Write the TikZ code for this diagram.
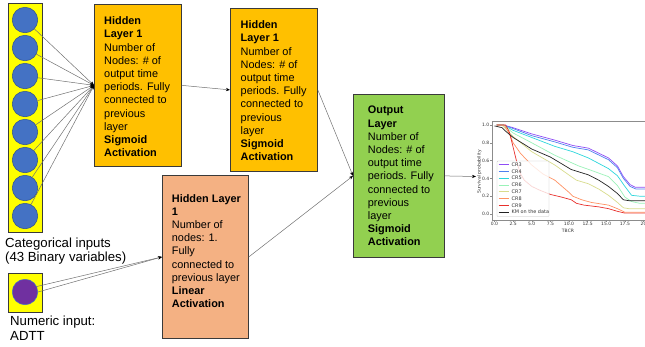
\documentclass[tikz,border=0pt]{standalone}
\usepackage{fontspec}
\setmainfont{Liberation Sans}
\newfontfamily\plotfont{DejaVu Sans}
\usetikzlibrary{arrows.meta}
\definecolor{cyel}{HTML}{FFFF00}
\definecolor{cblue}{HTML}{4472C4}
\definecolor{cblueline}{HTML}{2F528F}
\definecolor{cpurple}{HTML}{7030A0}
\definecolor{corange}{HTML}{FFC000}
\definecolor{csalmon}{HTML}{F4B183}
\definecolor{cgreen}{HTML}{92D050}
\definecolor{boxline}{HTML}{3A3A3A}
\definecolor{edgec}{HTML}{707070}
\definecolor{pcr3}{HTML}{8F4DF5}
\definecolor{pcr4}{HTML}{4F7FEF}
\definecolor{pcr5}{HTML}{2CD6DC}
\definecolor{pcr6}{HTML}{9AF2B8}
\definecolor{pcr7}{HTML}{D8DC8C}
\definecolor{pcr8}{HTML}{FF9264}
\definecolor{pcr9}{HTML}{E8302C}
\definecolor{pkm}{HTML}{222222}
\begin{document}
\begin{tikzpicture}[x=1pt,y=-1pt,
  layerbox/.style={draw=boxline, line width=0.8pt, anchor=north west, inner sep=0pt},
  inbox/.style={draw=boxline, line width=0.8pt, fill=cyel, anchor=north west, inner sep=0pt},
  bcirc/.style={circle, fill=cblue, draw=cblueline, line width=0.5pt, minimum size=25.5pt, inner sep=0pt},
  pcirc/.style={circle, fill=cpurple, draw=cblue, line width=0.5pt, minimum size=25.5pt, inner sep=0pt},
  boxtext/.style={anchor=north west, inner sep=0pt, align=left, font=\fontsize{10.9}{13.2}\selectfont},
  intext/.style={anchor=north west, inner sep=0pt, align=left, font=\fontsize{13.2}{14.6}\selectfont},
  conn/.style={draw=edgec, line width=0.5pt, -{Stealth[length=4pt,width=3.2pt,black]}},
  ticklab/.style={inner sep=0pt, font=\plotfont\fontsize{4.5}{5}\selectfont, text=black!80},
  leglab/.style={inner sep=0pt, font=\plotfont\fontsize{4.9}{5.5}\selectfont, text=black!80},
  curve/.style={line width=0.7pt, line join=round}
]
\useasboundingbox (0,0) rectangle (645,346);

% inputs
\node[inbox, minimum width=34pt, minimum height=228.4pt] (col) at (8,3.3) {};
\foreach \i in {1,...,8}{
  \node[bcirc] (c\i) at (25,{20+28*(\i-1)}) {};
}
\node[inbox, minimum width=34pt, minimum height=38.4pt] (numbox) at (8,273.3) {};
\node[pcirc] (pc) at (25,292) {};
\node[intext] (cattext) at (5,237.5) {Categorical inputs\\(43 Binary variables)};
\node[intext] (numtext) at (10,316) {Numeric input:\\ADTT};

% layer boxes
\node[layerbox, fill=corange, minimum width=87pt, minimum height=162.5pt] (h1) at (94,3.7) {};
\node[layerbox, fill=corange, minimum width=87pt, minimum height=163pt] (h2) at (230,8) {};
\node[layerbox, fill=csalmon, minimum width=86pt, minimum height=163pt] (h3) at (162,175) {};
\node[layerbox, fill=cgreen, minimum width=91pt, minimum height=163pt] (out) at (353,94) {};

\node[boxtext] (t1) at (104,16.5) {\textbf{Hidden}\\\textbf{Layer 1}\\Number of\\Nodes: \# of\\output time\\periods. Fully\\connected to\\previous\\layer\\\textbf{Sigmoid}\\\textbf{Activation}};
\node[boxtext] (t2) at (240.5,20.5) {\textbf{Hidden}\\\textbf{Layer 1}\\Number of\\Nodes: \# of\\output time\\periods. Fully\\connected to\\previous\\layer\\\textbf{Sigmoid}\\\textbf{Activation}};
\node[boxtext] (t3) at (171.7,194) {\textbf{Hidden Layer}\\\textbf{1}\\Number of\\nodes: 1.\\Fully\\connected to\\previous layer\\\textbf{Linear}\\\textbf{Activation}};
\node[boxtext] (t4) at (367.7,106) {\textbf{Output}\\\textbf{Layer}\\Number of\\Nodes: \# of\\output time\\periods. Fully\\connected to\\previous\\layer\\\textbf{Sigmoid}\\\textbf{Activation}};

% connectors
\foreach \i in {1,...,8}{
  \draw[conn] (c\i) -- (h1.west);
}
\draw[conn] (h1.east) -- (h2.west);
\draw[conn] (h2.east) -- (out.west);
\draw[conn] (h3.east) -- (out.west);
\draw[conn] (pc.east) -- (h3.west);
\draw[conn] (pc.25) -- (h3.west);
\coordinate (plotin) at (476,176.5);
\draw[conn] (out.east) -- (plotin);

% plot
\begin{scope}[shift={(494.5pt,-214pt)}, x=7.45pt, y=89pt]
  \draw[curve, pcr3] (0.3,1)--(1.2,1)--(2.5,0.97)--(5,0.9)--(8.1,0.83)--(10.5,0.77)--(12.6,0.74)--(15.3,0.63)--(16.5,0.54)--(17.3,0.42)--(18.2,0.33)--(18.9,0.3)--(21,0.3);
  \draw[curve, pcr4] (0.3,1)--(1.2,1)--(2.5,0.96)--(5,0.88)--(8.1,0.81)--(10.5,0.75)--(12.6,0.72)--(15.3,0.61)--(16.5,0.52)--(17.3,0.4)--(18.2,0.31)--(19,0.28)--(21,0.28);
  \draw[curve, pcr5] (0.3,1)--(1.2,1)--(2.5,0.94)--(5,0.86)--(8.1,0.76)--(10.5,0.7)--(12.6,0.63)--(15.3,0.51)--(16.5,0.43)--(17.5,0.31)--(18.4,0.21)--(19.5,0.2)--(21,0.2);
  \draw[curve, pcr6] (0.3,1)--(1.2,1)--(2.5,0.91)--(5,0.8)--(8.1,0.66)--(11.3,0.54)--(13,0.49)--(15.3,0.42)--(16.5,0.32)--(17.5,0.19)--(18.4,0.14)--(19.5,0.12)--(21,0.12);
  \draw[curve, pcr7] (0.3,1)--(1,1)--(2.5,0.87)--(5,0.7)--(8.1,0.55)--(10.3,0.42)--(11,0.38)--(12.6,0.34)--(14,0.28)--(15.3,0.21)--(16.5,0.13)--(17.3,0.07)--(18,0.06)--(21,0.06);
  \draw[curve, pcr8] (0.3,1)--(1.3,1)--(2,0.9)--(2.5,0.8)--(3.5,0.68)--(5,0.55)--(6.5,0.45)--(8.1,0.38)--(9.9,0.25)--(10.5,0.2)--(11.7,0.16)--(13,0.13)--(15.3,0.1)--(16.5,0.06)--(17.5,0.02)--(21,0.02);
  \draw[curve, pcr9] (0.3,1)--(1.5,1)--(2,0.92)--(2.5,0.75)--(3,0.58)--(3.5,0.45)--(4,0.38)--(5,0.31)--(6,0.27)--(7.5,0.22)--(9,0.19)--(10.3,0.16)--(11,0.12)--(12,0.1)--(14,0.08)--(15.3,0.06)--(16.5,0.03)--(17.5,0.01)--(21,0.01);
  \draw[curve, pkm] (0,0.99)--(1,0.97)--(1.5,0.93)--(2.5,0.86)--(5,0.73)--(7.5,0.64)--(8.1,0.61)--(10.3,0.5)--(12.6,0.44)--(14,0.38)--(15.3,0.31)--(16.5,0.23)--(17.3,0.16)--(18,0.15)--(21,0.15);
  % frame
  \draw[black!45, line width=0.4pt] (-0.34,-0.067) rectangle (22,1.045);
  \foreach \s in {0,0.2,0.4,0.6,0.8,1.0}{
    \draw[black!45, line width=0.3pt] (-0.34,\s) -- ++(-1.8pt,0);
  }
  \foreach \t in {0,2.5,5,7.5,10,12.5,15,17.5,20}{
    \draw[black!45, line width=0.3pt] (\t,-0.067) -- ++(0,-1.8pt);
  }
\end{scope}
% tick labels
\foreach \s/\lab in {0/0.0,0.2/0.2,0.4/0.4,0.6/0.6,0.8/0.8,1.0/1.0}{
  \node[ticklab, anchor=east] at (489.5,{214-89*\s}) {\lab};
}
\foreach \t/\lab in {0/0.0,2.5/2.5,5/5.0,7.5/7.5,10/10.0,12.5/12.5,15/15.0,17.5/17.5,20/20}{
  \node[ticklab] at ({494.5+7.45*\t},224) {\lab};
}
\node[ticklab] (xlab) at (568,230.5) {TBCR};
\node[ticklab, rotate=90] (ylab) at (479.5,172) {Survival probability};
% legend
\draw[black!25, fill=white, fill opacity=0.8, line width=0.3pt, rounded corners=0.8pt] (497,161) rectangle (549,216.5);
\foreach \k/\c/\lab in {0/pcr3/CR3,1/pcr4/CR4,2/pcr5/CR5,3/pcr6/CR6,4/pcr7/CR7,5/pcr8/CR8,6/pcr9/CR9,7/pkm/KM on the data}{
  \draw[curve, \c] (498.7,{164.6+6.77*\k}) -- (509,{164.6+6.77*\k});
  \node[leglab, anchor=west] at (511.5,{164.6+6.77*\k}) {\lab};
}
\end{tikzpicture}
\end{document}
